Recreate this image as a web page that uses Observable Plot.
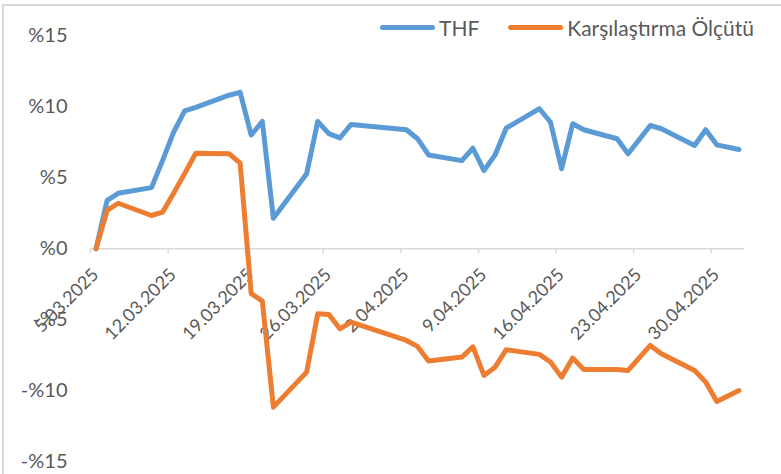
<!DOCTYPE html>
<html><head><meta charset="utf-8">
<script src="https://cdn.jsdelivr.net/npm/d3@7"></script>
<script src="https://cdn.jsdelivr.net/npm/@observablehq/plot@0.6"></script>
<style>
body{margin:0;background:#fff;font-family:Lato,sans-serif;}
#wrap{position:relative;width:781px;height:474px;overflow:hidden;}
#chart svg{position:absolute;left:0;top:0;}
#frame{position:absolute;left:2px;top:4px;width:820px;height:520px;border-left:2px solid #d9d9d9;border-top:2px solid #d9d9d9;pointer-events:none;}
#legend{position:absolute;top:15px;left:380px;display:flex;align-items:center;font-size:21px;color:#595959;white-space:nowrap;line-height:normal;}
.sw{display:inline-block;width:55px;height:5px;border-radius:3px;margin-right:4px;}
</style></head>
<body><div id="wrap"><div id="chart"></div><div id="frame"></div><div id="legend"></div></div>
<script>
const dates = ["2025-03-05","2025-03-06","2025-03-07","2025-03-10","2025-03-11","2025-03-12","2025-03-13","2025-03-14",
  "2025-03-17","2025-03-18","2025-03-19","2025-03-20","2025-03-21","2025-03-24","2025-03-25","2025-03-26","2025-03-27","2025-03-28",
  "2025-04-02","2025-04-03","2025-04-04","2025-04-07","2025-04-08","2025-04-09","2025-04-10","2025-04-11",
  "2025-04-14","2025-04-15","2025-04-16","2025-04-17","2025-04-18","2025-04-21","2025-04-22","2025-04-24","2025-04-25",
  "2025-04-28","2025-04-29","2025-04-30","2025-05-02"];
const thf = [0,3.4,3.9,4.3,6.2,8.2,9.7,9.95,
  10.8,11.0,8.0,8.95,2.15,5.27,8.95,8.1,7.8,8.74,
  8.37,7.74,6.6,6.2,7.07,5.5,6.6,8.48,
  9.85,8.9,5.63,8.79,8.37,7.74,6.68,8.67,8.44,
  7.26,8.37,7.31,6.98];
const bench = [0,2.7,3.2,2.34,2.57,3.9,5.3,6.72,
  6.68,6.02,-3.16,-3.68,-11.14,-8.68,-4.57,-4.62,-5.63,-5.16,
  -6.45,-6.87,-7.9,-7.62,-6.9,-8.91,-8.33,-7.1,
  -7.43,-7.97,-9.03,-7.69,-8.49,-8.49,-8.56,-6.8,-7.38,
  -8.56,-9.38,-10.74,-9.97];
const seriesNames = ["THF","Karşılaştırma Ölçütü"];
const seriesColors = ["#5B9BD5","#ED7D31"];
const xTickDates = ["2025-03-05","2025-03-12","2025-03-19","2025-03-26","2025-04-02","2025-04-09","2025-04-16","2025-04-23","2025-04-30"];
const xDomain = ["2025-03-05","2025-05-03"];
const yTicks = [-15,-10,-5,0,5,10,15];

const parse = d3.utcParse("%Y-%m-%d");
const rows = [];
[thf, bench].forEach((vals, s) => {
  dates.forEach((d, i) => rows.push({date: d3.utcHour.offset(parse(d), 12), value: vals[i], series: seriesNames[s]}));
});
const ticks = xTickDates.map(parse);
const fmtX = d3.utcFormat("%-d.%m.%Y");
const fmtY = v => v < 0 ? "-%" + (-v) : "%" + v;

const chart = Plot.plot({
  width: 781, height: 474,
  marginLeft: 90, marginRight: 37, marginTop: 35, marginBottom: 12.5,
  x: {type: "utc", domain: xDomain.map(parse), axis: null},
  y: {domain: [-15, 15], axis: null},
  color: {domain: seriesNames, range: seriesColors},
  style: {fontFamily: "Lato, sans-serif", background: "transparent", overflow: "visible"},
  marks: [
    Plot.axisY(yTicks, {tickSize: 0, tickPadding: 23, tickFormat: fmtY, fontSize: 20, fill: "#595959", label: null}),
    Plot.ruleY([0], {stroke: "#d9d9d9", strokeWidth: 1.5}),
    Plot.ruleX(ticks, {x: d => d, y1: () => 0, y2: () => 0, insetBottom: -5, stroke: "#d9d9d9", strokeWidth: 1.5}),
    Plot.text(ticks, {x: d => d, y: () => 0, text: d => fmtX(d), rotate: -45, textAnchor: "end", lineAnchor: "middle",
      dx: 5, dy: 23, fontSize: 18, fill: "#595959"}),
    Plot.line(rows, {x: "date", y: "value", z: "series", stroke: "series", strokeWidth: 5,
      strokeLinejoin: "round", strokeLinecap: "round"})
  ]
});
document.getElementById("chart").appendChild(chart);

const legend = document.getElementById("legend");
seriesNames.forEach((n, i) => {
  const sw = document.createElement("span");
  sw.className = "sw"; sw.style.background = seriesColors[i];
  if (i > 0) sw.style.marginLeft = "29px";
  const t = document.createElement("span");
  t.textContent = n;
  legend.appendChild(sw); legend.appendChild(t);
});
</script>
</body></html>
